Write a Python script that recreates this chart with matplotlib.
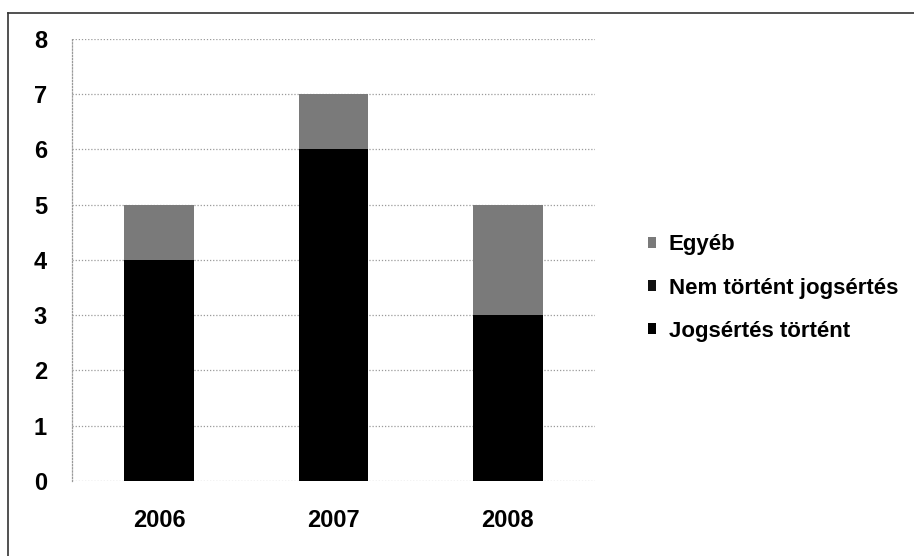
import matplotlib
matplotlib.use("Agg")
import matplotlib.pyplot as plt
from matplotlib.lines import Line2D
import numpy as np

plt.rcParams["font.family"] = ["Liberation Sans", "DejaVu Sans"]
plt.rcParams["font.weight"] = "bold"

# adatok
years = ["2006", "2007", "2008"]
jogsertes_tortent = [4, 6, 3]
nem_tortent = [0, 0, 0]
egyeb = [1, 1, 2]
y_ticks = [0, 1, 2, 3, 4, 5, 6, 7, 8]

fig = plt.figure(figsize=(9.14, 5.56), dpi=100)
ax = fig.add_axes([0.0788, 0.1349, 0.5722, 0.795])

x = np.arange(len(years))
w = 0.4
b1 = ax.bar(x, jogsertes_tortent, w, color="#000000", label="Jogsértés történt", zorder=3)
b2 = ax.bar(x, nem_tortent, w, bottom=jogsertes_tortent, color="#111111",
            label="Nem történt jogsértés", zorder=3)
bottom3 = [a + b for a, b in zip(jogsertes_tortent, nem_tortent)]
b3 = ax.bar(x, egyeb, w, bottom=bottom3, color="#7a7a7a", label="Egyéb", zorder=3)

ax.set_xlim(-0.5, len(years) - 0.5)
ax.set_ylim(0, 8)
ax.set_yticks(y_ticks)
ax.set_xticks(x)
ax.set_xticklabels(years)
ax.tick_params(axis="both", length=0, labelsize=17)
ax.tick_params(axis="y", pad=18)
ax.tick_params(axis="x", pad=20)

ax.yaxis.grid(True, color="#9a9a9a", linestyle=(0, (1, 1.5)), linewidth=0.9, zorder=0)
for s in ["top", "right", "bottom"]:
    ax.spines[s].set_visible(False)
ax.spines["left"].set_color("#9a9a9a")
ax.spines["left"].set_linestyle((0, (1, 1.5)))
ax.spines["left"].set_linewidth(0.9)

handles = [b3, b2, b1]
labels = ["Egyéb", "Nem történt jogsértés", "Jogsértés történt"]
fig.legend(handles, labels, loc="center left", bbox_to_anchor=(0.687, 0.482),
           frameon=False, fontsize=16, handlelength=0.38, handleheight=0.38,
           handletextpad=0.55, labelspacing=1.0)

# keret (bal és felső vonal)
fig.add_artist(Line2D([0.009, 0.009], [0.0, 0.977], transform=fig.transFigure,
                      color="#333333", linewidth=1.2))
fig.add_artist(Line2D([0.009, 1.0], [0.977, 0.977], transform=fig.transFigure,
                      color="#333333", linewidth=1.2))

fig.savefig("out.png", dpi=100)
